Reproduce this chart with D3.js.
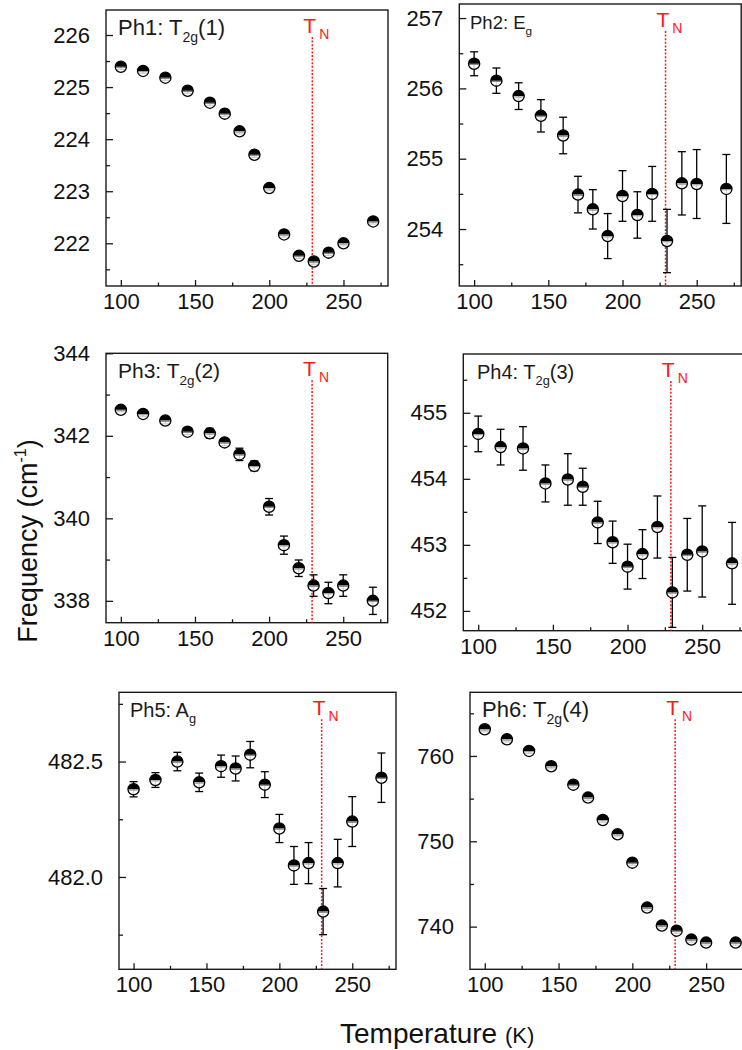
<!DOCTYPE html>
<html>
<head>
<meta charset="utf-8">
<script src="https://cdn.jsdelivr.net/npm/d3@7/dist/d3.min.js"></script>
<style>
  html, body { margin: 0; padding: 0; background: #fff; }
  svg { display: block; }
  text { font-family: "Liberation Sans", Arial, Helvetica, sans-serif; fill: #111; }
</style>
</head>
<body>
<svg id="chart" width="742" height="1050"></svg>
<script>
// Measurement temperatures (K), shared by every phonon mode
const temperatures = [100, 115, 130, 145, 160, 170, 180, 190, 200, 210, 220, 230, 240, 250, 270];

// Néel temperature
const neelTemperature = 229;

// Mode frequencies (cm^-1) and their uncertainties
const ph1Freq = [225.39, 225.31, 225.18, 224.93, 224.70, 224.49, 224.15, 223.70, 223.06, 222.17, 221.76, 221.65, 221.82, 222.00, 222.42];
const ph1Err  = [0.05, 0.05, 0.05, 0.05, 0.05, 0.05, 0.05, 0.05, 0.05, 0.05, 0.05, 0.05, 0.05, 0.05, 0.05];

const ph2Freq = [256.35, 256.11, 255.89, 255.61, 255.33, 254.49, 254.28, 253.90, 254.47, 254.20, 254.50, 253.83, 254.65, 254.64, 254.57];
const ph2Err  = [0.17, 0.18, 0.19, 0.23, 0.26, 0.26, 0.28, 0.32, 0.36, 0.33, 0.39, 0.45, 0.45, 0.49, 0.49];

const ph3Freq = [342.63, 342.53, 342.37, 342.10, 342.06, 341.84, 341.55, 341.27, 340.28, 339.35, 338.79, 338.37, 338.19, 338.37, 338.00];
const ph3Err  = [0.05, 0.06, 0.08, 0.07, 0.12, 0.08, 0.15, 0.12, 0.20, 0.22, 0.20, 0.26, 0.26, 0.26, 0.33];

const ph4Freq = [454.68, 454.48, 454.46, 453.93, 453.99, 453.88, 453.34, 453.04, 452.67, 452.86, 453.27, 452.28, 452.85, 452.90, 452.72];
const ph4Err  = [0.27, 0.27, 0.33, 0.28, 0.39, 0.28, 0.32, 0.32, 0.34, 0.37, 0.47, 0.53, 0.55, 0.69, 0.62];

const ph5Freq = [482.38, 482.42, 482.50, 482.41, 482.48, 482.47, 482.53, 482.40, 482.21, 482.05, 482.06, 481.85, 482.06, 482.24, 482.43];
const ph5Err  = [0.033, 0.032, 0.040, 0.040, 0.048, 0.054, 0.057, 0.056, 0.061, 0.082, 0.089, 0.100, 0.103, 0.108, 0.107];

const ph6Freq = [763.13, 761.95, 760.59, 758.79, 756.64, 755.12, 752.50, 750.82, 747.50, 742.23, 740.12, 739.53, 738.48, 738.13, 738.13];
const ph6Err  = [0.3, 0.3, 0.3, 0.3, 0.3, 0.3, 0.3, 0.3, 0.3, 0.3, 0.3, 0.3, 0.3, 0.3, 0.3];

// Axis ticks
const xTicks = [100, 150, 200, 250];
const xMinorTicks = [125, 175, 225, 275];

const ph1YTicks = [222, 223, 224, 225, 226];
const ph1YMinor = [221.5, 222.5, 223.5, 224.5, 225.5, 226.5];
const ph2YTicks = [254, 255, 256, 257];
const ph2YMinor = [253.5, 254.5, 255.5, 256.5];
const ph3YTicks = [338, 340, 342, 344];
const ph3YMinor = [339, 341, 343];
const ph4YTicks = [452, 453, 454, 455];
const ph4YMinor = [451.5, 452.5, 453.5, 454.5, 455.5];
const ph5YTicks = [482.0, 482.5];
const ph5YMinor = [481.75, 482.25, 482.75];
const ph6YTicks = [740, 750, 760];
const ph6YMinor = [745, 755, 765];

// Mode labels: name, irreducible representation, subscript, suffix
const modeNames = ["Ph1: ", "Ph2: ", "Ph3: ", "Ph4: ", "Ph5: ", "Ph6: "];
const modeSymbols = ["T", "E", "T", "T", "A", "T"];
const modeSubs = ["2g", "g", "2g", "2g", "g", "2g"];
const modeSuffixes = ["(1)", "", "(2)", "(3)", "", "(4)"];

// Panel layout (pixel frames, y ranges and label format)
const panels = [
  { left: 106,   right: 388,   top: 10,    bottom: 286,   yDomain: [221.18, 226.48], fmt: "d",   titleSize: 22,   titleX: 118, vals: ph1Freq, errs: ph1Err, yt: ph1YTicks, ym: ph1YMinor },
  { left: 459.3, right: 741.2, top: 4,     bottom: 286,   yDomain: [253.19, 257.2],  fmt: "d",   titleSize: 18.5, titleX: 470, vals: ph2Freq, errs: ph2Err, yt: ph2YTicks, ym: ph2YMinor },
  { left: 106,   right: 387.7, top: 353.3, bottom: 622.7, yDomain: [337.47, 344.0],  fmt: "d",   titleSize: 21,   titleX: 118, vals: ph3Freq, errs: ph3Err, yt: ph3YTicks, ym: ph3YMinor },
  { left: 463.3, right: 747,   top: 354,   bottom: 630.7, yDomain: [451.7, 455.89],  fmt: "d",   titleSize: 20,   titleX: 477, vals: ph4Freq, errs: ph4Err, yt: ph4YTicks, ym: ph4YMinor },
  { left: 119,   right: 396,   top: 692.3, bottom: 969.3, yDomain: [481.6, 482.8],   fmt: ".1f", titleSize: 20,   titleX: 130, vals: ph5Freq, errs: ph5Err, yt: ph5YTicks, ym: ph5YMinor },
  { left: 470,   right: 750.4, top: 692.3, bottom: 969.3, yDomain: [735, 767.46],    fmt: "d",   titleSize: 22,   titleX: 482, vals: ph6Freq, errs: ph6Err, yt: ph6YTicks, ym: ph6YMinor }
];

const svg = d3.select("#chart");
const axisColor = "#1a1a1a";
const markerR = 5.6;

panels.forEach((p, i) => {
  const x = d3.scaleLinear().domain([90, 280]).range([p.left, p.right]);
  const y = d3.scaleLinear().domain(p.yDomain).range([p.bottom, p.top]);
  const g = svg.append("g").attr("class", "panel panel-" + (i + 1));

  // frame
  g.append("rect")
    .attr("x", p.left).attr("y", p.top)
    .attr("width", p.right - p.left).attr("height", p.bottom - p.top)
    .attr("fill", "none").attr("stroke", axisColor).attr("stroke-width", 1.4);

  // bottom axis, ticks pointing inward
  const xAxis = d3.axisBottom(x).tickValues(xTicks).tickFormat(d3.format("d"))
    .tickSizeInner(-6).tickSizeOuter(0).tickPadding(12);
  const xg = g.append("g").attr("transform", `translate(0,${p.bottom})`).call(xAxis);
  const xMinor = d3.axisBottom(x).tickValues(xMinorTicks).tickFormat("")
    .tickSizeInner(-3.5).tickSizeOuter(0);
  const xmg = g.append("g").attr("transform", `translate(0,${p.bottom})`).call(xMinor);

  // left axis, ticks pointing inward
  const yAxis = d3.axisLeft(y).tickValues(p.yt).tickFormat(d3.format(p.fmt))
    .tickSizeInner(-7).tickSizeOuter(0).tickPadding(16);
  const yg = g.append("g").attr("transform", `translate(${p.left},0)`).call(yAxis);
  const yMinor = d3.axisLeft(y).tickValues(p.ym.filter(v => v > p.yDomain[0] && v < p.yDomain[1]))
    .tickFormat("").tickSizeInner(-4).tickSizeOuter(0);
  const ymg = g.append("g").attr("transform", `translate(${p.left},0)`).call(yMinor);

  [xg, xmg, yg, ymg].forEach(a => {
    a.select(".domain").remove();
    a.selectAll(".tick line").attr("stroke", axisColor).attr("stroke-width", 1.3);
    a.selectAll(".tick text")
      .attr("font-size", 22)
      .attr("font-family", "Liberation Sans, Arial, sans-serif")
      .attr("fill", "#111");
  });
  xg.selectAll(".tick text").attr("dy", "0.5em");

  // Néel temperature marker line and label
  const xn = x(neelTemperature);
  g.append("line")
    .attr("x1", xn).attr("x2", xn)
    .attr("y1", p.top + 27).attr("y2", p.bottom)
    .attr("stroke", "#ee1c1c").attr("stroke-width", 1.5)
    .attr("stroke-dasharray", "2,1.6");
  const tn = g.append("text")
    .attr("x", xn - 9).attr("y", p.top + 23)
    .attr("font-size", 21)
    .style("fill", "#ff1a1a");
  tn.append("tspan").text("T");
  tn.append("tspan").attr("font-size", 14).attr("dx", 3).attr("dy", 6).text("N");

  // mode label
  const tt = g.append("text")
    .attr("x", p.titleX).attr("y", p.top + 25)
    .attr("font-size", p.titleSize)
    .style("fill", "#1a1a1a");
  tt.append("tspan").text(modeNames[i] + modeSymbols[i]);
  tt.append("tspan").attr("font-size", p.titleSize * 0.64).attr("dy", p.titleSize * 0.3).text(modeSubs[i]);
  if (modeSuffixes[i]) {
    tt.append("tspan").attr("dy", -p.titleSize * 0.3).text(modeSuffixes[i]);
  }

  const pts = temperatures.map((t, k) => ({ t, v: p.vals[k], e: p.errs[k] }));

  // error bars (under the markers)
  const eb = g.selectAll("g.eb").data(pts).enter().append("g")
    .attr("class", "eb")
    .attr("stroke", "#000").attr("stroke-width", 1.3);
  eb.append("line")
    .attr("x1", d => x(d.t)).attr("x2", d => x(d.t))
    .attr("y1", d => y(d.v - d.e)).attr("y2", d => y(d.v + d.e));
  eb.append("line")
    .attr("x1", d => x(d.t) - 4).attr("x2", d => x(d.t) + 4)
    .attr("y1", d => y(d.v + d.e)).attr("y2", d => y(d.v + d.e));
  eb.append("line")
    .attr("x1", d => x(d.t) - 4).attr("x2", d => x(d.t) + 4)
    .attr("y1", d => y(d.v - d.e)).attr("y2", d => y(d.v - d.e));

  // data points: half-filled circles, lower half slightly see-through
  const mk = g.selectAll("g.pt").data(pts).enter().append("g")
    .attr("class", "pt")
    .attr("transform", d => `translate(${x(d.t)},${y(d.v)})`);
  mk.append("circle").attr("r", markerR).attr("fill", "#fff").attr("fill-opacity", 0.82);
  mk.append("path")
    .attr("d", `M${-markerR},0 A${markerR},${markerR} 0 0 1 ${markerR},0 Z`)
    .attr("fill", "#000");
  mk.append("line")
    .attr("x1", -markerR).attr("x2", markerR).attr("y1", 0.8).attr("y2", 0.8)
    .attr("stroke", "#888").attr("stroke-width", 1);
  mk.append("circle").attr("r", markerR).attr("fill", "none")
    .attr("stroke", "#000").attr("stroke-width", 1.3);
});

// shared axis titles
const yl = svg.append("text")
  .attr("transform", "translate(37,541) rotate(-90)")
  .attr("text-anchor", "middle")
  .attr("font-size", 27);
yl.append("tspan").text("Frequency (cm");
yl.append("tspan").attr("font-size", 16).attr("dy", -11).text("-1");
yl.append("tspan").attr("dy", 11).text(")");

const xl = svg.append("text")
  .attr("x", 340).attr("y", 1043)
  .attr("font-size", 28);
xl.append("tspan").text("Temperature ");
xl.append("tspan").attr("font-size", 22).text("(K)");
</script>
</body>
</html>
